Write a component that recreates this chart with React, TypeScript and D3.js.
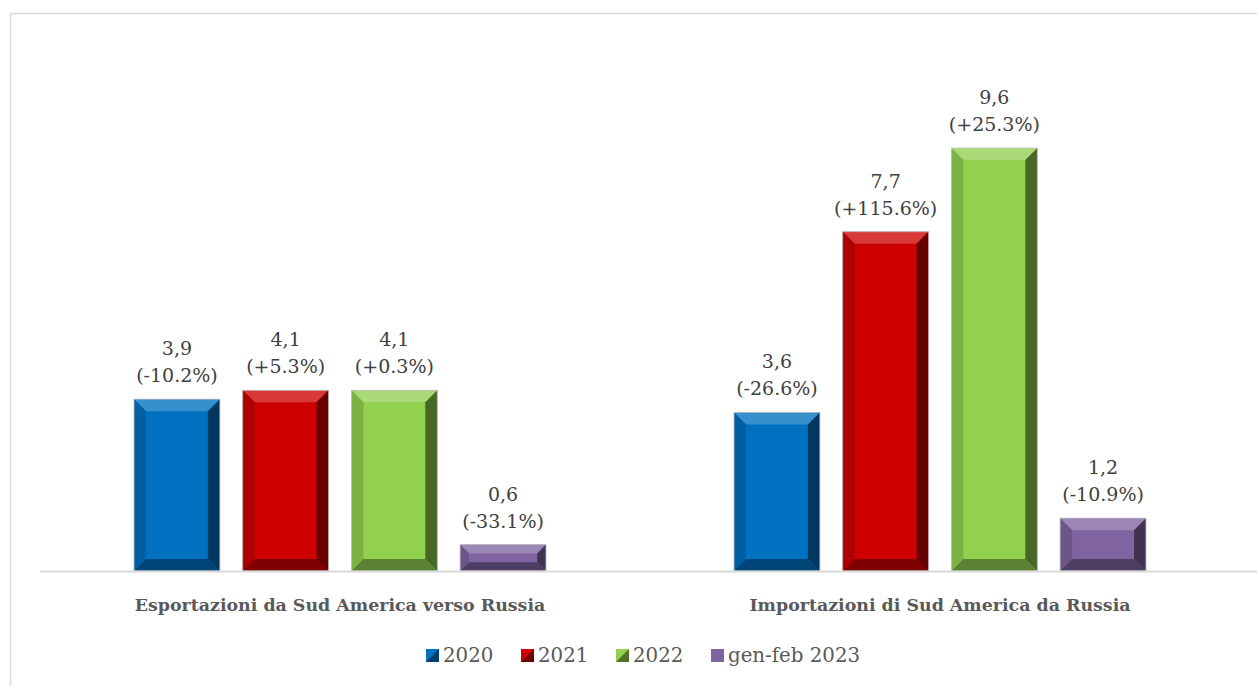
import React from "react";
import * as d3 from "d3";

const categories = ["Esportazioni da Sud America verso Russia", "Importazioni di Sud America da Russia"];
const seriesNames = ["2020", "2021", "2022", "gen-feb 2023"];
const exportsValues = [3.9, 4.1, 4.1, 0.6];
const exportsChanges = ["(-10.2%)", "(+5.3%)", "(+0.3%)", "(-33.1%)"];
const importsValues = [3.6, 7.7, 9.6, 1.2];
const importsChanges = ["(-26.6%)", "(+115.6%)", "(+25.3%)", "(-10.9%)"];

const colors = ["#0070C0", "#CC0000", "#92D050", "#8064A2"];

const W = 1257;
const H = 686;
const FONT = "'DejaVu Serif', Cambria, serif";

function fmt(v: number) {
  return v.toFixed(1).replace(".", ",");
}

function Bar({ x, y, w, h, color }: { x: number; y: number; w: number; h: number; color: string }) {
  const b = Math.min(12, h / 3, w / 4);
  const light = d3.interpolateRgb(color, "#ffffff")(0.22);
  const dark1 = d3.interpolateRgb(color, "#000000")(0.15);
  const dark2 = d3.interpolateRgb(color, "#000000")(0.5);
  const dark3 = d3.interpolateRgb(color, "#000000")(0.38);
  const x2 = x + w;
  const y2 = y + h;
  const p = (pts: number[][]) => pts.map((q) => q.join(",")).join(" ");
  return (
    <g>
      <rect x={x} y={y} width={w} height={h} fill={color} />
      <polygon points={p([[x, y], [x2, y], [x2 - b, y + b], [x + b, y + b]])} fill={light} />
      <polygon points={p([[x, y], [x + b, y + b], [x + b, y2 - b], [x, y2]])} fill={dark1} />
      <polygon points={p([[x2, y], [x2, y2], [x2 - b, y2 - b], [x2 - b, y + b]])} fill={dark2} />
      <polygon points={p([[x, y2], [x + b, y2 - b], [x2 - b, y2 - b], [x2, y2]])} fill={dark3} />
      <rect x={x} y={y} width={w} height={h} fill="none" stroke="#bfbfbf" strokeWidth={0.8} />
    </g>
  );
}

export default function App() {
  const x0 = d3.scaleBand<string>().domain(categories).range([40, 1240]);
  const x1 = d3.scaleBand<string>().domain(seriesNames).range([94, 506]).paddingInner(0.21).paddingOuter(0);
  const y = d3.scaleLinear().domain([0, 10]).range([571, 130.4]);
  const groups = [
    { cat: categories[0], values: exportsValues, changes: exportsChanges },
    { cat: categories[1], values: importsValues, changes: importsChanges },
  ];
  const legendX = [426, 521, 616, 711];
  return (
    <svg width={W} height={H} style={{ position: "absolute", left: 0, top: 0 }}>
      <rect x={0} y={0} width={W} height={H} fill="#fff" />
      <rect x={10.5} y={13.5} width={1260} height={700} fill="#fff" stroke="#d9d9d9" strokeWidth={1.5} />
      {groups.map((g) => (
        <g key={g.cat}>
          {g.values.map((v, i) => {
            const bx = x0(g.cat)! + x1(seriesNames[i])!;
            const bw = x1.bandwidth();
            const by = y(v);
            return (
              <g key={i}>
                <Bar x={bx} y={by} w={bw} h={y(0) - by} color={colors[i]} />
                <text x={bx + bw / 2} y={by - 44} textAnchor="middle" fontFamily={FONT} fontSize={19} fill="#404040">
                  {fmt(v)}
                </text>
                <text x={bx + bw / 2} y={by - 17} textAnchor="middle" fontFamily={FONT} fontSize={19} fill="#404040">
                  {g.changes[i]}
                </text>
              </g>
            );
          })}
          <text
            x={x0(g.cat)! + x0.bandwidth() / 2}
            y={611}
            textAnchor="middle"
            fontFamily={FONT}
            fontWeight="bold"
            fontSize={17.4}
            fill="#595959"
          >
            {g.cat}
          </text>
        </g>
      ))}
      <line x1={40} x2={1257} y1={571.5} y2={571.5} stroke="#d9d9d9" strokeWidth={2} />
      {seriesNames.map((s, i) => {
        const lx = legendX[i];
        const sz = 13;
        const ly = 649;
        const dark = d3.interpolateRgb(colors[i], "#000000")(0.45);
        return (
          <g key={s}>
            {i < 3 ? (
              <g>
                <rect x={lx} y={ly} width={sz} height={sz} fill={colors[i]} />
                <polygon points={`${lx + sz},${ly} ${lx + sz},${ly + sz} ${lx},${ly + sz}`} fill={dark} />
              </g>
            ) : (
              <rect x={lx} y={ly} width={sz} height={sz} fill={colors[i]} />
            )}
            <text x={lx + 17} y={ly + 13} fontFamily={FONT} fontSize={19.8} fill="#595959">
              {s}
            </text>
          </g>
        );
      })}
    </svg>
  );
}
